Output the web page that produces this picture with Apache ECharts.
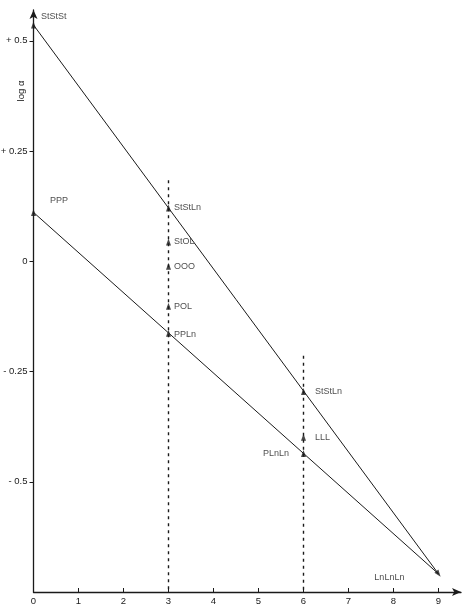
<!DOCTYPE html>
<html>
<head>
<meta charset="utf-8">
<script src="https://cdn.jsdelivr.net/npm/echarts@6/dist/echarts.min.js"></script>
<style>
html,body{margin:0;padding:0;background:#fff;}
#c{width:464px;height:608px;}
</style>
</head>
<body>
<div id="c"></div>
<script>
// ---- data ----
const pointNames = ['StStSt','PPP','StStLn','StOL','OOO','POL','PPLn','StStLn ','LLL','PLnLn','LnLnLn'];
const pointX     = [0, 0, 3, 3, 3, 3, 3, 6, 6, 6, 9];
const pointY     = [0.536, 0.111, 0.121, 0.044, -0.011, -0.102, -0.163, -0.295, -0.399, -0.436, -0.709];
const upperLineX = [0, 9];
const upperLineY = [0.536, -0.709];
const lowerLineX = [0, 9];
const lowerLineY = [0.111, -0.709];
const dash3X = [3, 3];
const dash3Y = [0.184, -0.75];
const dash6X = [6, 6];
const dash6Y = [-0.214, -0.75];
const xTickValues = [0,1,2,3,4,5,6,7,8,9];
const yTickValues = [-0.5,-0.25,0,0.25,0.5];
const yTickLabels = ['- 0.5','- 0.25','0','+ 0.25','+ 0.5'];
const yAxisTitle = 'log α';

// ---- label styling (not data) ----
const labelStyle = {
  'StStSt':  {position:'right', offset:[0,-8]},
  'PPP':     {position:'right', offset:[9,-12]},
  'StStLn':  {position:'right', offset:[-2,0]},
  'StOL':    {position:'right', offset:[-2,0]},
  'OOO':     {position:'right', offset:[-2,0]},
  'POL':     {position:'right', offset:[-2,0]},
  'PPLn':    {position:'right', offset:[-2,1]},
  'StStLn ': {position:'right', offset:[4,0]},
  'LLL':     {position:'right', offset:[4,0]},
  'PLnLn':   {position:'left',  offset:[-7,0]},
  'LnLnLn':  {position:'left',  offset:[-25,4]}
};
const FONT = '"Liberation Sans", Arial, Helvetica, sans-serif';
const INK = '#1a1a1a';

const pair = (xs, ys) => xs.map((x,i)=>[x, ys[i]]);

const scatterData = pointNames.map((n,i)=>{
  const s = labelStyle[n];
  const d = {
    name: n,
    value: [pointX[i], pointY[i]],
    label: {show:true, formatter: n.trim(), position: s.position, offset: s.offset}
  };
  if (n === 'LnLnLn') d.symbolRotate = -143;
  return d;
});

const chart = echarts.init(document.getElementById('c'), null, {renderer:'canvas'});
chart.setOption({
  animation: false,
  backgroundColor: '#fff',
  grid: {left: 33.5, right: 3, top: 10, bottom: 16, containLabel: false, outerBoundsMode: 'none'},
  xAxis: {
    type: 'value', min: 0, max: 9.5, interval: 1,
    splitLine: {show:false},
    axisLine: {show:true, onZero:false, lineStyle:{color:INK, width:1.3}, symbol:['none','arrow'], symbolSize:[6,9]},
    axisTick: {show:true, inside:true, length:4, lineStyle:{color:INK}, customValues: xTickValues},
    axisLabel: {show:true, color:INK, fontFamily:FONT, fontSize:9.5, margin:4, customValues: xTickValues,
      formatter: v => String(v)}
  },
  yAxis: {
    type: 'value', min: -0.75, max: 0.57, interval: 0.25,
    splitLine: {show:false},
    axisLine: {show:true, onZero:false, lineStyle:{color:INK, width:1.3}, symbol:['none','arrow'], symbolSize:[6,9]},
    axisTick: {show:true, inside:false, length:4, lineStyle:{color:INK}, customValues: yTickValues},
    axisLabel: {show:true, color:INK, fontFamily:FONT, fontSize:9.5, margin:6, customValues: yTickValues,
      formatter: v => { const i = yTickValues.findIndex(t=>Math.abs(t-v)<1e-6); return i>=0 ? yTickLabels[i] : ''; }}
  },
  graphic: [{
    type:'text', x: 21, y: 91, rotation: Math.PI/2,
    style:{text: yAxisTitle, fill: INK, font: '9.5px ' + FONT, align:'center', verticalAlign:'middle'}
  }],
  series: [
    {type:'line', data: pair(upperLineX, upperLineY), symbol:'none', lineStyle:{color:INK, width:1}, z:2},
    {type:'line', data: pair(lowerLineX, lowerLineY), symbol:'none', lineStyle:{color:INK, width:1}, z:2},
    {type:'line', data: pair(dash3X, dash3Y), symbol:'none', lineStyle:{color:INK, width:1.4, type:[3,4]}, z:1},
    {type:'line', data: pair(dash6X, dash6Y), symbol:'none', lineStyle:{color:INK, width:1.4, type:[3,4]}, z:1},
    {type:'scatter', data: scatterData, symbol:'triangle', symbolSize:[5,7],
      itemStyle:{color:INK}, z:5,
      label:{color:INK, fontFamily:FONT, fontSize:9, distance:5}}
  ]
});
</script>
</body>
</html>
